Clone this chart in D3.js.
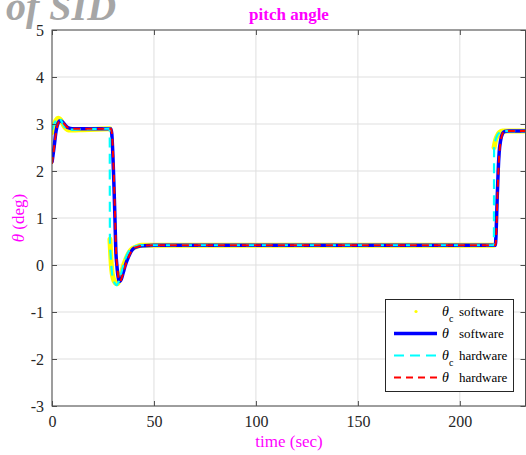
<!DOCTYPE html>
<html lang="en">
<head>
<meta charset="UTF-8">
<script src="https://d3js.org/d3.v7.min.js"></script>
<style>
  body { margin: 0; background: #fff; }
  svg text { font-family: "Liberation Serif", "Times New Roman", serif; }
</style>
</head>
<body>
<div id="chart"></div>
<script>
// time (sec) and pitch angle (deg) for each series
const tCmdSw = [0, 1, 2, 3, 4, 5, 6, 7, 8, 10, 15, 28.3, null,
  28.4, 28.8, 29.3, 30, 31, 32, 33, 34, 35, 36, 37, 38, 39.5, 41.5, 44, 100, 216.6, null,
  216.8, 217.5, 218.5, 219.5, 221, 233];
const vCmdSw = [2.82, 2.98, 3.08, 3.12, 3.1, 3.03, 2.95, 2.9, 2.87, 2.87, 2.88, 2.9, null,
  0.55, 0.2, -0.1, -0.28, -0.38, -0.4, -0.32, -0.18, -0.02, 0.1, 0.2, 0.28, 0.35, 0.39, 0.42, 0.42, 0.42, null,
  2.5, 2.65, 2.76, 2.82, 2.85, 2.85];

const tThSw = [0, 1, 2, 3, 4, 5, 6, 7, 8, 10, 20, 28.8, 29.3, 29.8, 30.3, 30.8, 31.3, 31.8,
  32.3, 32.8, 33.3, 34, 35, 36, 37, 38, 39, 40, 42, 45, 50, 217.4, 217.8, 218.3, 218.8,
  219.3, 220, 221, 222, 224, 233];
const vThSw = [2.18, 2.5, 2.85, 3.02, 3.07, 3.05, 3.0, 2.95, 2.92, 2.9, 2.9, 2.9, 2.8, 2.4, 1.8, 1.1, 0.3, 0.0,
  -0.22, -0.33, -0.35, -0.3, -0.15, 0.0, 0.12, 0.22, 0.3, 0.35, 0.39, 0.41, 0.42, 0.42, 0.7, 1.4, 2.0,
  2.4, 2.65, 2.8, 2.84, 2.85, 2.85];

const tCmdHw = [0, 1, 2, 3, 3.6, 5, 6, 7, 8, 10, 15, 28.3, 28.4, 28.8, 29.3, 30, 31, 31.7, 32.5, 33.5,
  34.5, 35.5, 36.5, 37.5, 39, 41, 44, 100, 216.7, 216.8, 217.5, 218.5, 219.5, 221, 233];
const vCmdHw = [2.87, 3.0, 3.08, 3.12, 3.12, 3.03, 2.95, 2.9, 2.88, 2.88, 2.89, 2.9, 0.53, 0.2, -0.12, -0.3, -0.4, -0.43, -0.38, -0.25,
  -0.08, 0.07, 0.19, 0.28, 0.35, 0.4, 0.42, 0.42, 0.42, 2.5, 2.66, 2.77, 2.82, 2.85, 2.85];

const tThHw = [0, 1, 2, 3, 4, 5, 6, 7, 8, 10, 20, 28.9, 29.4, 29.9, 30.4, 30.9, 31.4, 31.9,
  32.4, 32.9, 33.4, 34, 35, 36, 37, 38, 39, 40, 42, 45, 50, 217.5, 217.9, 218.4, 218.9,
  219.4, 220.1, 221, 222, 224, 233];
const vThHw = [2.15, 2.48, 2.83, 3.01, 3.06, 3.05, 3.0, 2.95, 2.92, 2.9, 2.9, 2.9, 2.8, 2.4, 1.8, 1.1, 0.3, 0.0,
  -0.22, -0.33, -0.35, -0.3, -0.16, -0.01, 0.11, 0.21, 0.3, 0.35, 0.39, 0.41, 0.42, 0.42, 0.7, 1.4, 2.0,
  2.4, 2.65, 2.8, 2.84, 2.85, 2.85];

const xTicks = [0, 50, 100, 150, 200];
const yTicks = [-3, -2, -1, 0, 1, 2, 3, 4, 5];
const seriesNames = ["software", "software", "hardware", "hardware"];

const W = 526, H = 455;
const pL = 52, pR = 525.5, pT = 30, pB = 406;

const svg = d3.select("#chart").append("svg")
  .attr("width", W).attr("height", H);

const x = d3.scaleLinear().domain([0, 232.2]).range([pL, pR]);
const y = d3.scaleLinear().domain([-3, 5]).range([pB, pT]);

// grid
svg.append("g").selectAll("line").data(xTicks).join("line")
  .attr("x1", d => x(d)).attr("x2", d => x(d))
  .attr("y1", pT).attr("y2", pB)
  .attr("stroke", "#dfdfdf").attr("stroke-width", 1);
svg.append("g").selectAll("line").data(yTicks).join("line")
  .attr("x1", pL).attr("x2", pR)
  .attr("y1", d => y(d)).attr("y2", d => y(d))
  .attr("stroke", "#dfdfdf").attr("stroke-width", 1);

// series
svg.append("clipPath").attr("id", "clip").append("rect")
  .attr("x", pL).attr("y", pT).attr("width", pR - pL).attr("height", pB - pT);

const line = d3.line()
  .defined(d => d[1] !== null)
  .x(d => x(d[0])).y(d => y(d[1]))
  .curve(d3.curveMonotoneX);

const zip = (ts, vs) => ts.map((t, i) => [t, vs[i]]);
const plot = svg.append("g").attr("clip-path", "url(#clip)");

plot.append("path").datum(zip(tCmdSw, vCmdSw))
  .attr("d", line).attr("fill", "none")
  .attr("stroke", "#ffff00").attr("stroke-width", 5).attr("stroke-linecap", "round");
plot.append("path").datum(zip(tThSw, vThSw))
  .attr("d", line).attr("fill", "none")
  .attr("stroke", "#0000ff").attr("stroke-width", 3.5);
plot.append("path").datum(zip(tCmdHw, vCmdHw))
  .attr("d", line).attr("fill", "none")
  .attr("stroke", "#00ffff").attr("stroke-width", 2.2).attr("stroke-dasharray", "10,6");
plot.append("path").datum(zip(tThHw, vThHw))
  .attr("d", line).attr("fill", "none")
  .attr("stroke", "#ff0000").attr("stroke-width", 2).attr("stroke-dasharray", "7,5");

// frame and ticks
const ax = "#4d4d4d";
svg.append("rect").attr("x", pL).attr("y", pT)
  .attr("width", pR - pL).attr("height", pB - pT)
  .attr("fill", "none").attr("stroke", ax).attr("stroke-width", 1);

const fmt = d => String(d);  // plain hyphen minus, like the original
const xAxis = d3.axisBottom(x).tickValues(xTicks).tickSizeInner(-5).tickSizeOuter(0).tickFormat(fmt);
const gx = svg.append("g").attr("transform", `translate(0,${pB})`).call(xAxis);
const xAxisTop = d3.axisTop(x).tickValues(xTicks).tickSizeInner(-5).tickSizeOuter(0).tickFormat("");
svg.append("g").attr("transform", `translate(0,${pT})`).call(xAxisTop);
const yAxis = d3.axisLeft(y).tickValues(yTicks).tickSizeInner(-5).tickSizeOuter(0).tickPadding(8).tickFormat(fmt);
const gy = svg.append("g").attr("transform", `translate(${pL},0)`).call(yAxis);
const yAxisR = d3.axisRight(y).tickValues(yTicks).tickSizeInner(-5).tickSizeOuter(0).tickFormat("");
svg.append("g").attr("transform", `translate(${pR},0)`).call(yAxisR);

svg.selectAll(".domain").remove();
svg.selectAll(".tick line").attr("stroke", ax);
svg.selectAll(".tick text")
  .attr("fill", "#262626")
  .style("font-size", "16px")
  .style("font-family", '"Liberation Serif", serif');
gx.selectAll(".tick text").attr("dy", "0.71em").attr("y", 10);

// labels
svg.append("text").attr("x", 6).attr("y", 20)
  .attr("fill", "#a6a6a6")
  .style("font-size", "40px").style("font-weight", "bold").style("font-style", "italic")
  .text("of SID");

svg.append("text").attr("x", 289).attr("y", 20).attr("text-anchor", "middle")
  .attr("fill", "#ff00ff").style("font-size", "17px").style("font-weight", "bold")
  .text("pitch angle");

svg.append("text").attr("x", 289).attr("y", 447).attr("text-anchor", "middle")
  .attr("fill", "#ff00ff").style("font-size", "17px")
  .text("time (sec)");

const yl = svg.append("text")
  .attr("transform", "translate(24,218) rotate(-90)")
  .attr("text-anchor", "middle").attr("fill", "#ff00ff").style("font-size", "17px");
yl.append("tspan").style("font-style", "italic").text("θ");
yl.append("tspan").text(" (deg)");

// legend
const lg = svg.append("g");
lg.append("rect").attr("x", 385.5).attr("y", 299.5).attr("width", 128).attr("height", 92)
  .attr("fill", "#fff").attr("stroke", "#262626").attr("stroke-width", 1);

const rowsY = [311.5, 333.5, 355.5, 377.5];
const styles = [
  { stroke: "#ffff00", w: 0, dash: null },
  { stroke: "#0000ff", w: 3.5, dash: null },
  { stroke: "#00ffff", w: 2.2, dash: "10,6" },
  { stroke: "#ff0000", w: 2, dash: "7,5" }
];
const sub = [true, false, true, false];
seriesNames.forEach((name, i) => {
  const cy = rowsY[i];
  if (i === 0) {
    lg.append("circle").attr("cx", 416).attr("cy", cy).attr("r", 1.6).attr("fill", "#ffff00");
  } else {
    lg.append("line").attr("x1", 394).attr("x2", 437).attr("y1", cy).attr("y2", cy)
      .attr("stroke", styles[i].stroke).attr("stroke-width", styles[i].w)
      .attr("stroke-dasharray", styles[i].dash);
  }
  lg.append("text").attr("x", 442).attr("y", cy + 4)
    .style("font-size", "14px").style("font-style", "italic").attr("fill", "#000").text("θ");
  if (sub[i]) {
    lg.append("text").attr("x", 449).attr("y", cy + 10)
      .style("font-size", "10px").attr("fill", "#000").text("c");
  }
  lg.append("text").attr("x", 459).attr("y", cy + 4)
    .style("font-size", "13px").attr("fill", "#000").text(name);
});
</script>
</body>
</html>
